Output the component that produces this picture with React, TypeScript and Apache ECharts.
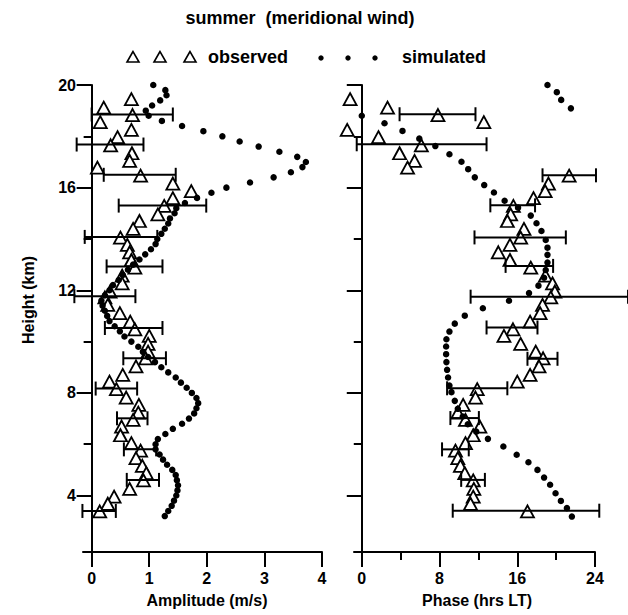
import React, { useEffect, useRef } from "react";
import * as echarts from "echarts";

// ---------- simulated amplitude (height km, amplitude m/s) ----------
const simAmpHeight = [
  20.0, 19.8, 19.6, 19.4, 19.2, 19.0, 18.8, 18.6, 18.4, 18.2, 18.0, 17.8, 17.6, 17.4, 17.2, 17.0,
  16.8, 16.6, 16.4, 16.2, 16.0, 15.8, 15.6, 15.4, 15.2, 15.0, 14.8, 14.6, 14.4, 14.2, 14.0, 13.8,
  13.6, 13.4, 13.2, 13.0, 12.8, 12.6, 12.4, 12.2, 12.0, 11.8, 11.6, 11.4, 11.2, 11.0, 10.8, 10.6,
  10.4, 10.2, 10.0, 9.8, 9.6, 9.4, 9.2, 9.0, 8.8, 8.6, 8.4, 8.2, 8.0, 7.8, 7.6, 7.4, 7.2, 7.0,
  6.8, 6.6, 6.4, 6.2, 6.0, 5.8, 5.6, 5.4, 5.2, 5.0, 4.8, 4.6, 4.4, 4.2, 4.0, 3.8, 3.6, 3.4, 3.2,
];
const simAmp = [
  1.07, 1.28, 1.30, 1.19, 1.05, 0.94, 0.99, 1.22, 1.57, 1.94, 2.27, 2.57, 2.90, 3.26, 3.57, 3.72,
  3.66, 3.46, 3.16, 2.75, 2.34, 2.08, 1.83, 1.62, 1.47, 1.44, 1.36, 1.33, 1.27, 1.21, 1.14, 1.11,
  1.03, 0.93, 0.83, 0.72, 0.63, 0.54, 0.47, 0.37, 0.31, 0.23, 0.17, 0.19, 0.23, 0.27, 0.31, 0.40,
  0.49, 0.57, 0.69, 0.81, 0.89, 0.98, 1.10, 1.21, 1.33, 1.46, 1.55, 1.65, 1.74, 1.82, 1.85, 1.82, 1.78, 1.69,
  1.57, 1.41, 1.28, 1.15, 1.11, 1.11, 1.18, 1.24, 1.31, 1.40, 1.46, 1.48, 1.50, 1.49, 1.47, 1.43, 1.39, 1.33, 1.27,
];

// ---------- simulated phase (height km, phase hrs LT) ----------
const simPhaseHeight = [
  20.0, 19.72, 19.42, 19.09, 18.8, 18.51, 18.21, 17.91, 17.62, 17.3, 17.01, 16.72, 16.4, 16.1, 15.81,
  15.49, 15.22, 14.91, 14.61, 14.31, 13.96, 13.66, 13.38, 13.08, 12.79, 12.49, 12.18, 11.89, 11.59,
  11.3, 11.01, 10.7, 10.39, 10.09, 9.81, 9.51, 9.2, 8.9, 8.6, 8.29, 8.03, 7.69, 7.38, 7.08, 6.78,
  6.49, 6.21, 5.91, 5.59, 5.3, 5.0, 4.7, 4.42, 4.09, 3.79, 3.51, 3.18,
];
const simPhase = [
  19.11, 20.07, 20.52, 21.52, 0.0, 2.34, 4.19, 5.92, 7.57, 9.02, 10.26, 10.95, 11.63, 12.6, 13.6,
  14.7, 16.08, 17.39, 17.98, 18.49, 18.93, 19.11, 19.11, 19.11, 18.93, 18.76, 18.18, 17.21, 15.15,
  12.46, 10.6, 9.57, 9.02, 8.71, 8.68, 8.68, 8.71, 8.78, 8.88, 9.02, 9.23, 9.57, 9.88, 10.39, 10.91,
  11.78, 12.98, 14.57, 15.94, 17.15, 18.08, 18.76, 19.38, 19.94, 20.49, 21.11, 21.62,
];

// ---------- observed (height km, amplitude m/s, phase hrs LT) ----------
const obsHeight = [
  19.45, 19.12, 18.83, 18.55, 18.25, 17.97, 17.65, 17.34, 17.04, 16.78, 16.47, 16.16, 15.86, 15.59,
  15.29, 14.96, 14.7, 14.39, 14.05, 13.77, 13.48, 13.18, 12.88, 12.57, 12.27, 11.95, 11.72, 11.43,
  11.11, 10.78, 10.48, 10.22, 9.91, 9.61, 9.35, 9.03, 8.7, 8.44, 8.15, 7.82, 7.53, 7.23, 6.95, 6.69,
  6.35, 6.04, 5.75, 5.46, 5.16, 4.87, 4.59, 4.26, 3.96, 3.68, 3.38,
];
const obsAmp = [
  0.69, 0.21, 0.71, 0.15, 0.69, 0.45, 0.33, 0.7, 0.66, 0.1, 0.85, 1.41, 1.73, 1.41,
  1.26, 1.15, 0.83, 0.72, 0.5, 0.62, 0.66, 0.69, 0.75, 0.53, 0.53, 0.32, 0.23, 0.28,
  0.49, 0.67, 0.75, 1.0, 0.98, 0.98, 0.94, 0.77, 0.54, 0.31, 0.43, 0.6, 0.82, 0.81, 0.72, 0.52,
  0.5, 0.69, 0.85, 0.77, 0.88, 0.95, 0.9, 0.66, 0.39, 0.28, 0.14,
];
const obsPhase = [
  -1.2, 2.65, 7.84, 12.56, -1.5, 1.72, 6.13, 3.89, 5.43, 4.71, 21.34, 19.21, 18.87, 17.67,
  15.6, 15.32, 14.98, 16.69, 16.35, 15.25, 14.05, 15.25, 17.39, 18.9, 19.63, 19.87, 19.45, 18.6,
  18.35, 17.32, 15.56, 14.63, 16.35, 17.9, 18.66, 18.24, 17.32, 16.0, 11.88, 11.7, 10.43, 9.88, 10.67, 12.15,
  11.47, 10.67, 9.64, 9.88, 10.15, 10.6, 11.47, 11.53, 11.47, 11.19, 17.05,
];

// ---------- error bars ----------
const ampErrHeight = [18.85, 17.68, 16.5, 15.3, 14.08, 12.93, 11.77, 10.53, 9.35, 8.17, 7.01, 5.8, 4.61, 3.4];
const ampErrLow = [0.0, -0.26, 0.21, 0.47, -0.12, 0.26, -0.3, 0.23, 0.55, 0.07, 0.44, 0.56, 0.61, -0.16];
const ampErrHigh = [1.41, 0.9, 1.46, 1.99, 1.14, 1.23, 0.76, 1.23, 1.29, 0.79, 0.97, 1.12, 1.17, 0.42];

const phaseErrHeight = [18.86, 17.69, 16.48, 15.31, 14.06, 12.95, 11.75, 10.55, 9.33, 8.18, 7.02, 5.8, 4.61, 3.41];
const phaseErrLow = [3.89, -0.52, 18.6, 13.23, 11.6, 14.8, 11.2, 12.84, 17.05, 8.78, 9.12, 8.26, 10.23, 9.36];
const phaseErrHigh = [11.7, 12.84, 24.1, 17.83, 21.0, 19.69, 27.4, 18.08, 20.14, 14.98, 12.05, 11.01, 12.67, 24.44];

// ---------- ticks ----------
const heightTicks = [4, 8, 12, 16, 20];
const heightMinorTicks = [6, 10, 14, 18];
const ampTicks = [0, 1, 2, 3, 4];
const phaseTicks = [0, 8, 16, 24];
const phaseMinorTicks = [4, 12, 20];

const FONT = "'Liberation Sans', Arial, Helvetica, sans-serif";

export default function App() {
  const ref = useRef<HTMLDivElement>(null);

  useEffect(() => {
    const chart = echarts.init(ref.current!, null, { renderer: "svg" });
    const black = "#000";
    const lineStyle = { color: black, width: 2 };
    const labelStyle = { color: black, fontWeight: "bold" as const, fontSize: 16, fontFamily: FONT };

    const errRender = (params: any, api: any) => {
      const h = api.value(2);
      const p1 = api.coord([api.value(0), h]);
      const p2 = api.coord([api.value(1), h]);
      const c = 7;
      const st = { stroke: black, lineWidth: 2 };
      return {
        type: "group",
        children: [
          { type: "line", shape: { x1: p1[0], y1: p1[1], x2: p2[0], y2: p2[1] }, style: st },
          { type: "line", shape: { x1: p1[0], y1: p1[1] - c, x2: p1[0], y2: p1[1] + c }, style: st },
          { type: "line", shape: { x1: p2[0], y1: p2[1] - c, x2: p2[0], y2: p2[1] + c }, style: st },
        ],
      };
    };

    const triStyle = { color: "#fff", borderColor: black, borderWidth: 1.8, opacity: 1 };
    const dotStyle = { color: black, opacity: 1 };

    const legendTri = (x: number, y: number) => ({
      type: "polygon",
      shape: { points: [[x, y - 5.5], [x - 6, y + 5], [x + 6, y + 5]] },
      style: { fill: "#fff", stroke: black, lineWidth: 1.6 },
    });
    const legendDot = (x: number, y: number) => ({
      type: "circle",
      shape: { cx: x, cy: y, r: 2.7 },
      style: { fill: black },
    });

    const option: any = {
      animation: false,
      backgroundColor: "#fff",
      grid: [
        { left: 83, top: 85, width: 239, height: 467 },
        { left: 354, top: 85, width: 241, height: 467 },
      ],
      xAxis: [
        {
          gridIndex: 0, type: "value", min: -0.15, max: 4, position: "bottom",
          axisLine: { show: true, onZero: false, lineStyle },
          axisTick: { show: true, length: 15, customValues: ampTicks, lineStyle },
          axisLabel: { ...labelStyle, margin: 18, customValues: ampTicks },
          splitLine: { show: false },
        },
        {
          gridIndex: 1, type: "value", min: -0.8, max: 24, position: "bottom",
          axisLine: { show: true, onZero: false, lineStyle },
          axisTick: { show: true, length: 15, customValues: phaseTicks, lineStyle },
          axisLabel: { ...labelStyle, margin: 18, customValues: phaseTicks },
          splitLine: { show: false },
        },
        {
          gridIndex: 1, type: "value", min: -0.8, max: 24, position: "bottom",
          axisLine: { show: false, onZero: false },
          axisTick: { show: true, length: 8, customValues: phaseMinorTicks, lineStyle },
          axisLabel: { show: false },
          splitLine: { show: false },
        },
      ],
      yAxis: [
        {
          gridIndex: 0, type: "value", min: 1.8, max: 20, position: "left",
          axisLine: { show: true, onZero: true, onZeroAxisIndex: 0, lineStyle },
          axisTick: { show: true, length: 15, customValues: heightTicks, lineStyle },
          axisLabel: { ...labelStyle, margin: 7, customValues: heightTicks },
          splitLine: { show: false },
        },
        {
          gridIndex: 0, type: "value", min: 1.8, max: 20, position: "left",
          axisLine: { show: false, onZero: true, onZeroAxisIndex: 0 },
          axisTick: { show: true, length: 8, customValues: heightMinorTicks, lineStyle },
          axisLabel: { show: false },
          splitLine: { show: false },
        },
        {
          gridIndex: 1, type: "value", min: 1.8, max: 20, position: "left",
          axisLine: { show: true, onZero: true, onZeroAxisIndex: 1, lineStyle },
          axisTick: { show: true, length: 15, customValues: heightTicks, lineStyle },
          axisLabel: { show: false },
          splitLine: { show: false },
        },
        {
          gridIndex: 1, type: "value", min: 1.8, max: 20, position: "left",
          axisLine: { show: false, onZero: true, onZeroAxisIndex: 1 },
          axisTick: { show: true, length: 8, customValues: heightMinorTicks, lineStyle },
          axisLabel: { show: false },
          splitLine: { show: false },
        },
      ],
      series: [
        {
          type: "scatter", name: "observed amplitude", xAxisIndex: 0, yAxisIndex: 0, clip: false,
          symbol: "triangle", symbolSize: [13, 12], itemStyle: triStyle, z: 2,
          data: obsAmp.map((a, i) => [a, obsHeight[i]]),
        },
        {
          type: "custom", name: "amplitude error", xAxisIndex: 0, yAxisIndex: 0, clip: false, z: 3,
          renderItem: errRender, encode: { x: [0, 1], y: 2 },
          data: ampErrHeight.map((h, i) => [ampErrLow[i], ampErrHigh[i], h]),
        },
        {
          type: "scatter", name: "simulated amplitude", xAxisIndex: 0, yAxisIndex: 0, clip: false,
          symbol: "circle", symbolSize: 6.5, itemStyle: dotStyle, z: 4,
          data: simAmp.map((a, i) => [a, simAmpHeight[i]]),
        },
        {
          type: "scatter", name: "observed phase", xAxisIndex: 1, yAxisIndex: 2, clip: false,
          symbol: "triangle", symbolSize: [13, 12], itemStyle: triStyle, z: 2,
          data: obsPhase.map((p, i) => [p, obsHeight[i]]),
        },
        {
          type: "custom", name: "phase error", xAxisIndex: 1, yAxisIndex: 2, clip: false, z: 3,
          renderItem: errRender, encode: { x: [0, 1], y: 2 },
          data: phaseErrHeight.map((h, i) => [phaseErrLow[i], phaseErrHigh[i], h]),
        },
        {
          type: "scatter", name: "simulated phase", xAxisIndex: 1, yAxisIndex: 2, clip: false,
          symbol: "circle", symbolSize: 6.5, itemStyle: dotStyle, z: 4,
          data: simPhase.map((p, i) => [p, simPhaseHeight[i]]),
        },
      ],
      graphic: [
        {
          type: "text", x: 300, y: 18,
          style: { text: "summer  (meridional wind)", fill: black, font: `bold 18px ${FONT}`, textAlign: "center", textVerticalAlign: "middle" },
        },
        legendTri(133, 57),
        legendTri(160, 57),
        legendTri(190, 57),
        {
          type: "text", x: 208, y: 57,
          style: { text: "observed", fill: black, font: `bold 18px ${FONT}`, textVerticalAlign: "middle" },
        },
        legendDot(321, 58),
        legendDot(348, 58),
        legendDot(375, 58),
        {
          type: "text", x: 402, y: 57,
          style: { text: "simulated", fill: black, font: `bold 18px ${FONT}`, textVerticalAlign: "middle" },
        },
        {
          type: "text", x: 28, y: 300, rotation: Math.PI / 2,
          style: { text: "Height (km)", fill: black, font: `bold 16px ${FONT}`, textAlign: "center", textVerticalAlign: "middle" },
        },
        {
          type: "text", x: 207, y: 600,
          style: { text: "Amplitude (m/s)", fill: black, font: `bold 16px ${FONT}`, textAlign: "center", textVerticalAlign: "middle" },
        },
        {
          type: "text", x: 477, y: 600,
          style: { text: "Phase (hrs LT)", fill: black, font: `bold 16px ${FONT}`, textAlign: "center", textVerticalAlign: "middle" },
        },
      ],
    };

    chart.setOption(option);
    return () => chart.dispose();
  }, []);

  return (
    <div
      ref={ref}
      style={{ position: "fixed", left: 0, top: 0, width: 628, height: 615, background: "#fff" }}
    />
  );
}
